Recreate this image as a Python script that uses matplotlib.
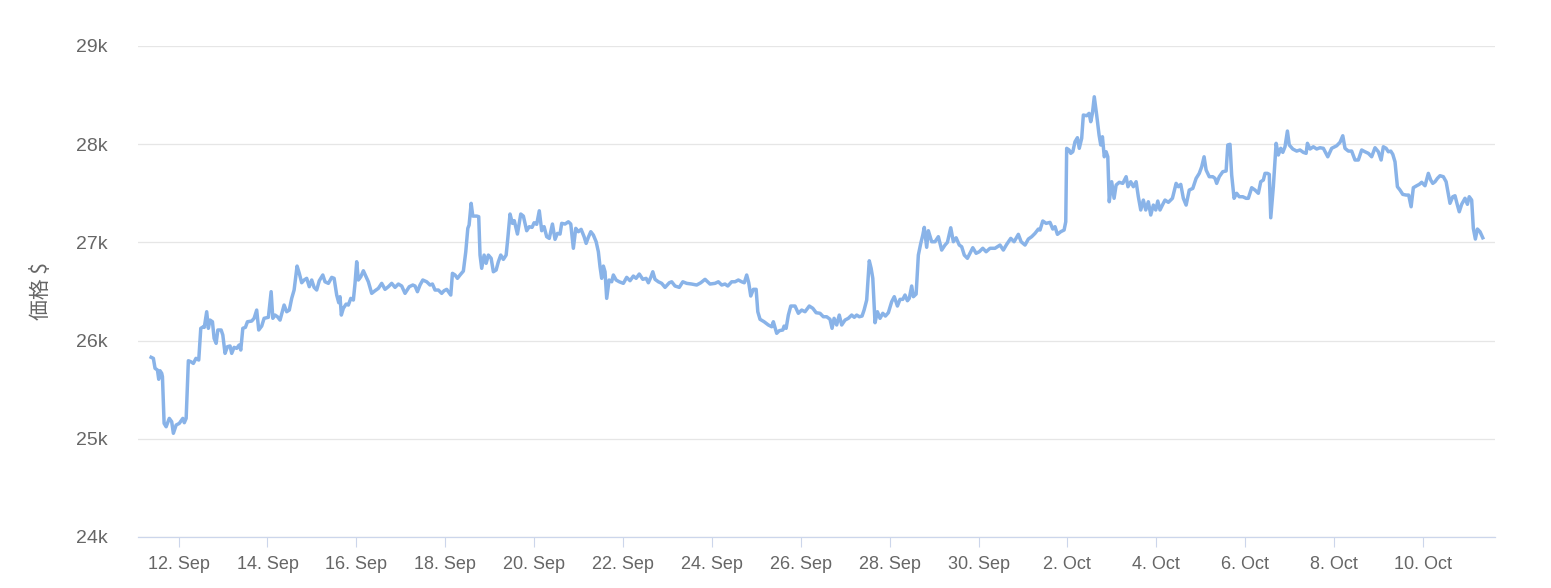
import matplotlib
matplotlib.use("Agg")
import matplotlib.pyplot as plt
import pandas as pd

START = pd.Timestamp("2023-09-11")

# hours since START
hours = [
    9.2, 10.4, 11.3, 12.6, 13.3, 14.0, 14.9, 15.3, 16.2, 17.3,
    19.0, 20.3, 21.2, 22.7, 24.4, 26.3, 27.1, 28.1, 29.3, 30.6,
    32.0, 33.4, 34.9, 36.0, 37.4, 37.9, 39.2, 40.1, 41.0, 42.3,
    43.2, 44.3, 45.2, 47.0, 47.9, 49.1, 50.4, 51.8, 52.7, 54.0,
    55.4, 56.7, 57.6, 58.7, 60.1, 61.2, 63.5, 64.8, 66.2, 67.3,
    68.9, 70.2, 72.5, 74.0, 74.9, 76.1, 77.4, 78.8, 81.0, 82.4,
    83.8, 85.1, 86.4, 88.0, 89.2, 90.5, 91.8, 93.2, 94.6, 95.9,
    97.2, 98.6, 100.0, 101.9, 103.1, 104.9, 106.7, 108.0, 109.4, 110.5,
    111.2, 111.9, 113.0, 114.5, 115.7, 117.0, 118.4, 119.3, 120.2, 121.1,
    122.4, 123.8, 125.3, 126.5, 128.3, 130.1, 131.9, 133.7, 135.5, 137.3,
    139.1, 140.9, 142.7, 144.5, 146.3, 148.6,
    150.5, 151.7, 153.0, 154.4, 155.9, 158.0, 159.8, 161.1, 162.5, 164.3,
    166.1, 167.4, 168.8, 169.7, 171.0, 171.9, 173.3, 174.6, 176.0, 177.8,
    179.1, 180.2, 180.9, 182.0, 182.9, 185.0, 186.1, 186.8, 187.7, 189.0,
    190.1, 191.3, 192.8, 194.0, 195.5, 196.7, 198.0, 199.4, 200.9, 201.8,
    203.0, 204.3, 205.3, 207.0, 208.8, 210.2, 212.0, 213.4, 214.9, 216.0,
    217.4, 218.8, 220.1, 221.4, 222.8, 224.2, 225.9, 227.3, 228.6, 230.0,
    230.9, 232.7, 234.5, 235.8, 237.2, 238.5, 239.9, 241.4, 243.0, 244.1,
    245.3, 246.6, 248.0, 249.5, 250.7, 251.6, 252.5, 253.4, 254.3, 255.2,
    256.5, 257.9, 258.8, 260.3, 262.0, 264.2, 266.0, 267.8, 269.6, 271.1,
    272.8, 274.7, 276.5, 277.7, 279.0, 280.1, 281.3, 283.1, 284.9, 286.7,
    289.0,
    290.3, 292.1, 294.4, 296.3, 298.4, 301.1, 303.8, 306.0, 308.3, 311.0,
    313.7, 315.5, 317.3, 319.1, 320.6, 322.7, 324.5, 326.3, 328.1, 329.5,
    330.8, 331.9, 333.0, 334.4, 335.9, 336.8, 338.0, 340.2, 342.5, 344.3,
    345.2, 347.0, 348.4, 350.3, 351.0, 352.1, 353.3, 354.6, 356.9, 358.7,
    360.5, 362.3, 364.6, 366.5, 368.3, 370.4, 372.2, 374.0, 375.8, 376.9,
    378.0, 379.4, 380.8, 382.1, 383.9, 385.7, 387.5, 388.9, 390.2, 391.6,
    393.1, 394.2, 395.6, 397.0, 398.0, 398.9, 400.1, 401.4, 402.8, 404.3,
    405.7, 407.3, 409.1, 410.5, 412.2, 413.6, 415.1, 416.3, 417.6, 418.6,
    419.9, 420.8, 422.3, 423.5, 424.8, 425.9, 426.7, 428.0, 428.9,
    430.7, 432.5, 434.3, 436.1, 437.9, 439.2, 441.0, 442.4, 443.9, 445.6,
    446.9, 448.3, 450.0, 451.4, 452.9, 454.7, 456.4, 458.3, 460.1, 462.2,
    464.9, 467.6, 469.4, 471.2, 473.4, 475.2, 477.5, 479.0, 481.1, 482.9,
    484.7, 486.5, 488.3, 489.2, 490.7, 492.5, 494.6, 496.1, 497.3, 498.6,
    500.4, 502.2, 503.1, 503.6, 504.9, 505.8, 506.9, 508.1, 509.4, 510.4,
    511.7, 512.6, 514.4, 515.7, 516.6, 517.5, 518.5, 519.8, 521.1, 522.0,
    522.9, 523.9, 524.9, 525.8, 526.6, 527.9, 529.2, 530.3, 532.0, 533.9,
    535.7, 536.7, 538.2, 539.6, 541.1, 542.3, 543.6, 545.0, 546.3, 547.7,
    549.0, 550.4, 551.7, 552.8, 554.0, 555.5, 556.7, 558.5, 560.7, 562.7,
    563.9, 565.2, 566.6, 568.1, 569.8,
    571.7, 573.5, 575.2, 576.5, 577.8, 578.9, 580.6, 582.5, 583.7, 584.6,
    586.0, 587.9, 589.7, 590.6, 591.8, 592.7, 594.0, 595.4, 596.8, 598.7,
    600.5, 601.7, 603.5, 605.3, 607.1, 608.4, 609.8, 610.7, 612.0, 613.0,
    613.8, 615.2, 616.7, 617.9, 619.2, 620.3, 621.5, 622.8, 623.8, 625.7,
    627.8, 629.6, 631.4, 632.9, 633.6, 635.0, 636.8, 638.6, 640.4, 642.2,
    644.6, 646.7, 649.4, 651.2, 652.7, 653.9, 655.7, 657.5, 659.3, 661.1,
    662.9, 664.7, 666.5, 668.3, 670.1, 671.9, 673.4, 674.6, 676.1, 677.3,
    678.6, 679.7, 680.9, 682.2, 683.6, 685.1, 686.9, 688.3, 689.6, 690.8,
    692.6, 694.0, 695.3, 697.1, 698.9, 700.2, 701.3, 702.5, 703.8, 705.2,
    707.0, 708.5, 709.7, 710.6, 712.1, 713.3, 714.6, 715.6, 716.9, 718.7,
    720.0, 721.0, 722.3, 723.2, 724.3, 725.4, 726.8, 728.3,
]

# price in $
prices = [
    25830, 25819, 25718, 25700, 25606, 25693, 25667, 25632, 25157, 25123,
    25208, 25174, 25056, 25140, 25157, 25208, 25164, 25208, 25795, 25785,
    25768, 25819, 25802, 26125, 26141, 26135, 26294, 26125, 26209, 26192,
    26023, 25972, 26108, 26108, 26057, 25870, 25938, 25945, 25870, 25931,
    25921, 25955, 25904, 26125, 26135, 26192, 26199, 26227, 26311, 26108,
    26148, 26227, 26237, 26498, 26227, 26260, 26243, 26209, 26362, 26294,
    26311, 26430, 26515, 26759, 26685, 26589, 26617, 26634, 26549, 26617,
    26542, 26515, 26610, 26668, 26599, 26583, 26644, 26634, 26464, 26386,
    26447, 26260, 26329, 26372, 26362, 26430, 26413, 26583, 26803, 26617,
    26650, 26711, 26650, 26599, 26481, 26508, 26532, 26583, 26522, 26549,
    26583, 26542, 26576, 26556, 26481, 26549,
    26566, 26556, 26498, 26566, 26617, 26599, 26566, 26576, 26515, 26515,
    26481, 26508, 26522, 26498, 26464, 26685, 26668, 26634, 26668, 26708,
    26905, 27143, 27177, 27398, 27268, 27268, 27262, 26871, 26736, 26871,
    26787, 26871, 26838, 26701, 26719, 26803, 26871, 26827, 26871, 27041,
    27289, 27194, 27221, 27085, 27289, 27268, 27119, 27160, 27153, 27200,
    27184, 27322, 27119, 27160, 27058, 27041, 27187, 27031, 27092, 27085,
    27194, 27187, 27210, 27187, 26940, 27143, 27109, 27133, 27058, 26990,
    27052, 27109, 27075, 27007, 26905, 26752, 26634, 26759, 26701, 26430,
    26617, 26599, 26668, 26617, 26599, 26583, 26644, 26610, 26657, 26634,
    26678, 26624, 26634, 26589, 26644, 26701, 26624, 26599, 26583, 26542,
    26589,
    26599, 26556, 26542, 26599, 26583, 26576, 26566, 26589, 26624, 26576,
    26583, 26599, 26566, 26576, 26556, 26599, 26599, 26617, 26599, 26589,
    26668, 26589, 26454, 26522, 26522, 26294, 26217, 26192, 26159, 26141,
    26192, 26074, 26101, 26108, 26148, 26125, 26260, 26352, 26352, 26278,
    26311, 26294, 26352, 26329, 26284, 26278, 26243, 26243, 26217, 26125,
    26227, 26159, 26260, 26159, 26209, 26227, 26260, 26237, 26260, 26243,
    26250, 26311, 26413, 26813, 26736, 26634, 26182, 26294, 26227, 26278,
    26250, 26284, 26396, 26447, 26352, 26420, 26420, 26464, 26406, 26430,
    26556, 26447, 26474, 26871, 26990, 27075, 27153, 26950, 27119,
    27007, 27007, 27058, 26922, 26973, 27001, 27149, 27007, 27047, 26973,
    26956, 26871, 26838, 26889, 26946, 26889, 26905, 26940, 26905, 26940,
    26940, 26973, 26922, 26980, 27041, 27007, 27082, 27007, 26973, 27034,
    27058, 27092, 27136, 27126, 27218, 27194, 27204, 27136, 27160, 27082,
    27109, 27126, 27210, 27958, 27941, 27907, 27923, 28025, 28066, 27958,
    28060, 28297, 28290, 28314, 28229, 28314, 28483, 28297, 28093, 27992,
    28076, 27872, 27923, 27872, 27414, 27618, 27449, 27584, 27612, 27601,
    27669, 27567, 27618, 27567, 27618, 27465, 27330, 27431, 27330, 27414,
    27279, 27380, 27330, 27421, 27330, 27388, 27431, 27408, 27449, 27601,
    27567, 27591, 27449, 27380, 27533,
    27550, 27652, 27703, 27770, 27872, 27737, 27669, 27669, 27652, 27601,
    27669, 27720, 27727, 27992, 27999, 27686, 27449, 27500, 27465, 27465,
    27449, 27449, 27557, 27533, 27500, 27618, 27635, 27703, 27703, 27693,
    27251, 27567, 28009, 27890, 27958, 27917, 27974, 28134, 27992, 27951,
    27930, 27941, 27917, 27907, 28009, 27951, 27974, 27951, 27964, 27958,
    27872, 27958, 27984, 28019, 28086, 27958, 27930, 27930, 27839, 27839,
    27941, 27923, 27907, 27872, 27964, 27923, 27839, 27974, 27958, 27923,
    27930, 27897, 27821, 27567, 27533, 27489, 27482, 27482, 27363, 27557,
    27577, 27591, 27612, 27577, 27703, 27635, 27601, 27618, 27652, 27679,
    27669, 27618, 27489, 27398, 27465, 27475, 27380, 27312, 27388, 27449,
    27388, 27465, 27431, 27143, 27034, 27136, 27109, 27047,
]

tick_days = list(pd.date_range("2023-09-12", "2023-09-30", freq="2D")) + \
    list(pd.date_range("2023-10-02", "2023-10-10", freq="2D"))
tick_labels = [f"{d.day}. {d.strftime('%b')}" for d in tick_days]

y_ticks = [24000, 25000, 26000, 27000, 28000, 29000]
y_labels = ["24k", "25k", "26k", "27k", "28k", "29k"]

LINE = "#89b3e8"
TEXT = "#666666"

times = (START + pd.to_timedelta(hours, unit="h")).to_pydatetime()

fig = plt.figure(figsize=(15.51, 5.88), dpi=100)
ax = fig.add_axes([138 / 1551, 51 / 588, 1357 / 1551, 491 / 588])

ax.plot(times, prices, color=LINE, linewidth=2.5, solid_joinstyle="round")

ax.set_xlim(START + pd.Timedelta(hours=2.1), START + pd.Timedelta(hours=734.9))
ax.set_ylim(24000, 29000)

ax.set_xticks(tick_days)
ax.set_xticklabels(tick_labels, family="Liberation Sans", fontsize=13, color=TEXT)
ax.set_yticks(y_ticks)
ax.set_yticklabels(y_labels, family="Liberation Sans", fontsize=14, color=TEXT)

ax.tick_params(axis="x", length=7.5, width=0.8, color="#ccd6eb", pad=6)
ax.tick_params(axis="y", length=0, pad=22)

ax.yaxis.grid(True, color="#e6e6e6", linewidth=0.9)
ax.set_axisbelow(True)
for side in ["top", "right", "left"]:
    ax.spines[side].set_visible(False)
ax.spines["bottom"].set_color("#ccd6eb")
ax.spines["bottom"].set_linewidth(0.9)

fig.text(41 / 1551, 1 - 291 / 588, "価格 $", rotation=90, ha="center", va="center",
         family=["Noto Sans CJK JP", "DejaVu Sans"], fontsize=15, color=TEXT)

fig.savefig("out.png", dpi=100)
